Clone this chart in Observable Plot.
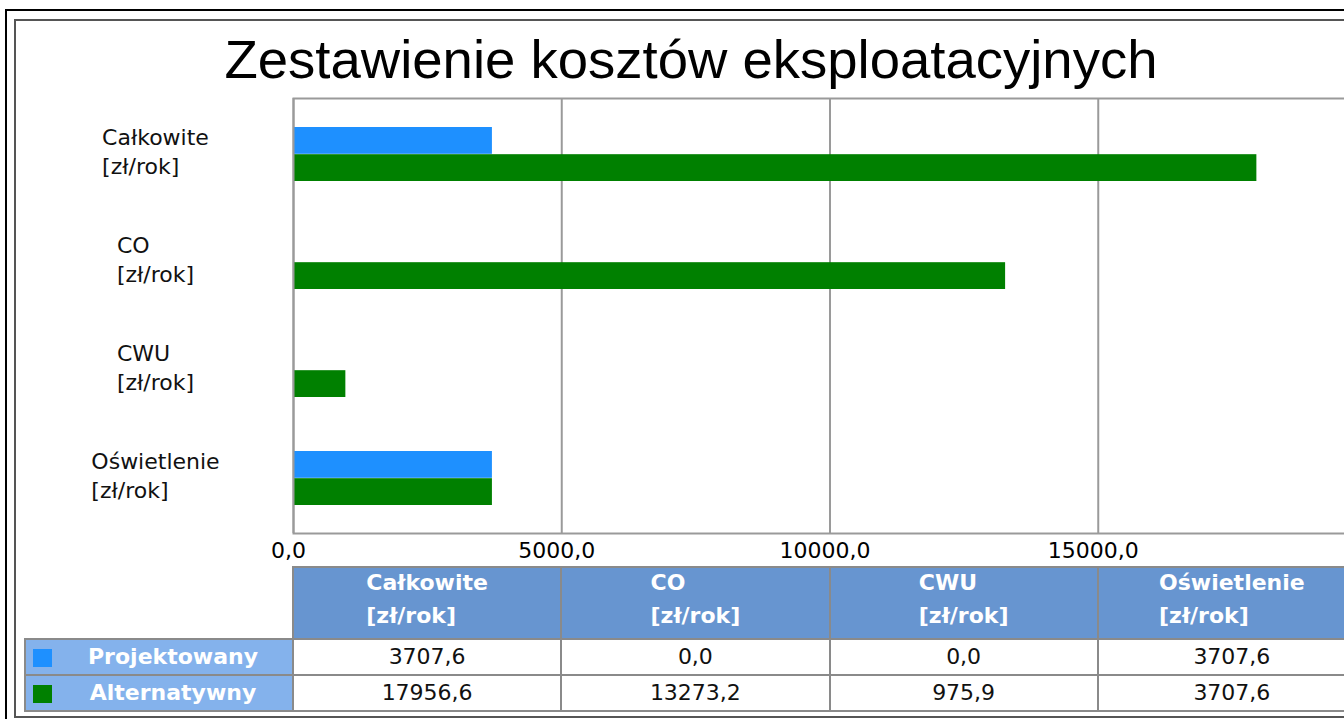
<!DOCTYPE html>
<html><head><meta charset="utf-8">
<script src="https://cdn.jsdelivr.net/npm/d3@7"></script>
<script src="https://cdn.jsdelivr.net/npm/@observablehq/plot@0.6"></script>
<style>
html,body{margin:0;padding:0;background:#fff;overflow:hidden;}
#root{position:relative;width:1344px;height:719px;overflow:hidden;font-family:"DejaVu Sans",sans-serif;}
.abs{position:absolute;box-sizing:border-box;}
#plotwrap{position:absolute;left:0;top:0;width:1400px;}
#plotwrap svg{max-width:none !important;}
</style></head><body><div id="root"></div>
<script>
// ---- data ----
const title = "Zestawienie kosztów eksploatacyjnych";
const categories = ["Całkowite", "CO", "CWU", "Oświetlenie"];
const unit = "[zł/rok]";
const series = ["Projektowany", "Alternatywny"];
const projektowany = [3707.6, 0.0, 0.0, 3707.6];
const alternatywny = [17956.6, 13273.2, 975.9, 3707.6];
const xTicks = [0, 5000, 10000, 15000];
const xMax = 20000;
const colors = ["#1e90ff", "#008000"];

const fmt = v => d3.format(".1f")(v).replace(".", ",");
const rows = categories.map((c, i) => ({cat: c, p: projektowany[i], a: alternatywny[i]}));

// ---- layout constants ----
const pTop = 98, pBottom = 533, pLeft = 293, pRight = 1366;
const W = 1400, H = 567;
const half = (pBottom - pTop) / categories.length * 0.5 / 2;
const gridColor = "#9a9a9a";

const root = document.getElementById("root");

const plot = Plot.plot({
  width: W, height: H,
  marginTop: pTop, marginBottom: H - pBottom, marginLeft: pLeft, marginRight: W - pRight,
  x: {domain: [0, xMax], axis: null},
  y: {domain: categories, paddingInner: 0.5, paddingOuter: 0.25, axis: null},
  style: {fontFamily: "DejaVu Sans", fontSize: "22px", color: "#000", background: "transparent", overflow: "visible", maxWidth: "none"},
  marks: [
    Plot.gridX(xTicks, {stroke: gridColor, strokeOpacity: 1, strokeWidth: 2}),
    Plot.barX(rows, {x: "p", y: "cat", fill: colors[0], insetBottom: half}),
    Plot.barX(rows, {x: "a", y: "cat", fill: colors[1], insetTop: half}),
    Plot.frame({stroke: gridColor, strokeWidth: 2}),
    Plot.axisX(xTicks, {anchor: "bottom", tickFormat: fmt, tickSize: 0, tickPadding: 9, fontSize: 22, dx: -5, label: null, fill: "#000"})
  ]
});
const wrap = document.createElement("div");
wrap.id = "plotwrap";
wrap.appendChild(plot);
root.appendChild(wrap);

const xs = plot.scale("x"), ys = plot.scale("y");

function el(style, text) {
  const d = document.createElement("div");
  d.className = "abs";
  Object.assign(d.style, style);
  if (text != null) d.textContent = text;
  root.appendChild(d);
  return d;
}

// frames
el({left: "5px", top: "9px", width: "1420px", height: "740px", border: "2px solid #000"});
el({left: "14px", top: "19px", width: "1420px", height: "699px", border: "2px solid #555"});

// title
el({left: "191px", top: "33px", width: "1000px", textAlign: "center", fontFamily: "'Liberation Sans', Arial, sans-serif", fontSize: "54.5px", lineHeight: "54px", color: "#000", whiteSpace: "nowrap"}, title);

// y labels
categories.forEach(c => {
  const yc = ys.apply(c) + ys.bandwidth / 2;
  el({left: "155.5px", top: (yc - 31.5) + "px", transform: "translateX(-50%)", fontSize: "22px", lineHeight: "29px", whiteSpace: "pre", textAlign: "left", color: "#111"}, c + "\n" + unit);
});

// table
const headBg = "#6795d0", rowBg = "#84b2ec", bc = "#8a8a8a";
const bounds = [0, 5000, 10000, 15000, 20000];
const headTop = 567, headH = 72, rowH = 36;
categories.forEach((c, i) => {
  const x0 = xs.apply(bounds[i]), x1 = xs.apply(bounds[i + 1]);
  const cell = el({left: (x0 - 1) + "px", top: (headTop - 1) + "px", width: (x1 - x0 + 2) + "px", height: (headH + 2) + "px", background: headBg, border: "2px solid " + bc});
  const inner = document.createElement("div");
  Object.assign(inner.style, {position: "absolute", left: "50%", top: "-2px", transform: "translateX(-50%)", fontWeight: "bold", fontSize: "22px", lineHeight: "33px", color: "#fff", whiteSpace: "pre", textAlign: "left"});
  inner.textContent = c + "\n" + unit;
  cell.appendChild(inner);
});
const values = [projektowany, alternatywny];
series.forEach((s, r) => {
  const y0 = headTop + headH + r * rowH;
  el({left: "24px", top: (y0 - 1) + "px", width: (pLeft - 24 + 1) + "px", height: (rowH + 2) + "px", background: rowBg, border: "2px solid " + bc});
  el({left: "33px", top: (y0 + 10) + "px", width: "19px", height: "18px", background: colors[r]});
  el({left: "57px", top: y0 + "px", width: (pLeft - 4 - 57) + "px", height: rowH + "px", lineHeight: rowH + "px", textAlign: "center", fontWeight: "bold", fontSize: "22px", color: "#fff", whiteSpace: "nowrap"}, s);
  categories.forEach((c, i) => {
    const x0 = xs.apply(bounds[i]), x1 = xs.apply(bounds[i + 1]);
    el({left: (x0 - 1) + "px", top: (y0 - 1) + "px", width: (x1 - x0 + 2) + "px", height: (rowH + 2) + "px", background: "#fff", border: "2px solid " + bc, lineHeight: (rowH - 2) + "px", textAlign: "center", fontSize: "22px", color: "#111", whiteSpace: "nowrap"}, fmt(values[r][i]));
  });
});
</script>
</body></html>
